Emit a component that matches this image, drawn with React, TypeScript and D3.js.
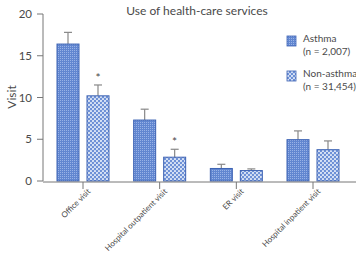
import React from "react";
import * as d3 from "d3";

const categories = ["Office visit", "Hospital outpatient visit", "ER visit", "Hospital inpatient visit"];
const asthmaMean = [16.4, 7.3, 1.5, 4.95];
const asthmaErr = [17.8, 8.6, 2.0, 6.0];
const nonAsthmaMean = [10.2, 2.85, 1.25, 3.75];
const nonAsthmaErr = [11.5, 3.8, 1.45, 4.8];
const significant = [true, true, false, false];
const yTicks = [0, 5, 10, 15, 20];
const seriesNames = ["Asthma", "Non-asthma"];
const seriesN = ["(n = 2,007)", "(n = 31,454)"];

const W = 356, H = 255;
const font = "'Lato', 'Open Sans', sans-serif";
const textColor = "#4a4a4a";
const axisColor = "#777";

export default function App() {
  const y = d3.scaleLinear().domain([0, 20]).range([181, 14]);
  const x0 = d3.scalePoint().domain(categories).range([83, 313]);
  const x1 = d3.scaleBand().domain(seriesNames).range([-26, 26]).paddingInner(0.2667);
  const series = [
    { name: seriesNames[0], mean: asthmaMean, err: asthmaErr, fill: "url(#patA)" },
    { name: seriesNames[1], mean: nonAsthmaMean, err: nonAsthmaErr, fill: "url(#patB)" },
  ];
  const bw = x1.bandwidth();
  return (
    <svg width={W} height={H} style={{ position: "absolute", left: 0, top: 0 }}>
      <defs>
        <pattern id="patA" width="2" height="2" patternUnits="userSpaceOnUse">
          <rect width="2" height="2" fill="#6186d0" />
          <rect x="0" y="0" width="1" height="1" fill="#98b2e6" />
        </pattern>
        <pattern id="patB" width="4" height="4" patternUnits="userSpaceOnUse">
          <rect width="4" height="4" fill="#6d90d6" />
          <circle cx="1" cy="1" r="1.1" fill="#dfe8f8" />
          <circle cx="3" cy="3" r="1.1" fill="#dfe8f8" />
        </pattern>
      </defs>
      <rect width={W} height={H} fill="#fff" />
      <text x={197} y={15} textAnchor="middle" fontFamily={font} fontSize={12} fill={textColor}>
        Use of health-care services
      </text>
      {/* y axis */}
      <line x1={43} x2={43} y1={y(20)} y2={y(0)} stroke={axisColor} strokeWidth={1} />
      {yTicks.map((t) => (
        <g key={t}>
          <line x1={37} x2={43} y1={y(t)} y2={y(t)} stroke={axisColor} />
          <text x={32} y={y(t) + 4} textAnchor="end" fontFamily={font} fontSize={11.5} fill={textColor}>
            {t}
          </text>
        </g>
      ))}
      <text transform={`translate(16,${97}) rotate(-90)`} textAnchor="middle" fontFamily={font} fontSize={12} fill={textColor}>
        Visit
      </text>
      {/* bars */}
      {categories.map((c, i) => {
        const gx = x0(c) as number;
        return (
          <g key={c}>
            {series.map((s) => {
              const bx = gx + (x1(s.name) as number);
              const cx = bx + bw / 2;
              return (
                <g key={s.name}>
                  <line x1={cx} x2={cx} y1={y(s.err[i])} y2={y(s.mean[i])} stroke="#888" strokeWidth={1.2} />
                  <line x1={cx - 4} x2={cx + 4} y1={y(s.err[i])} y2={y(s.err[i])} stroke="#888" strokeWidth={1.2} />
                  <rect x={bx} y={y(s.mean[i])} width={bw} height={y(0) - y(s.mean[i])} fill={s.fill} stroke="#3c62b3" strokeWidth={1} />
                </g>
              );
            })}
            {significant[i] && (
              <text
                x={gx + (x1(seriesNames[1]) as number) + bw / 2}
                y={y(nonAsthmaErr[i]) - 3}
                textAnchor="middle"
                fontFamily={font}
                fontSize={12}
                fill={textColor}
              >
                *
              </text>
            )}
            <line x1={gx} x2={gx} y1={182} y2={189} stroke={axisColor} />
            <text
              transform={`translate(${gx + 8},${192}) rotate(-45)`}
              textAnchor="end"
              fontFamily={font}
              fontSize={8}
              fill={textColor}
            >
              {c}
            </text>
          </g>
        );
      })}
      <line x1={43} x2={356} y1={182} y2={182} stroke={axisColor} strokeWidth={1} />
      {/* legend */}
      {series.map((s, i) => (
        <g key={s.name} transform={`translate(287,${36 + i * 35})`}>
          <rect x={0} y={0} width={9} height={10} fill={s.fill} stroke="#3c62b3" strokeWidth={0.8} />
          <text x={16} y={6} fontFamily={font} fontSize={10} fill={textColor}>
            {s.name}
          </text>
          <text x={16} y={19} fontFamily={font} fontSize={10} fill={textColor}>
            {seriesN[i]}
          </text>
        </g>
      ))}
    </svg>
  );
}
